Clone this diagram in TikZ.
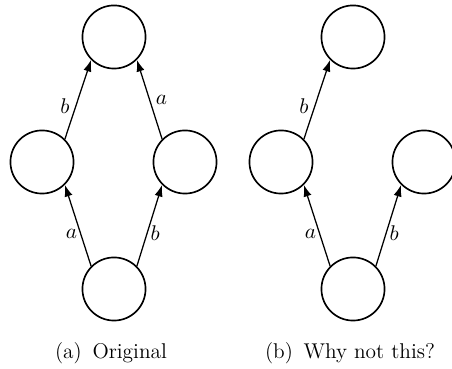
\documentclass[tikz,border=0pt]{standalone}
\usetikzlibrary{arrows.meta}
\begin{document}
\begin{tikzpicture}[x=0.515pt,y=-0.515pt,
  font=\fontsize{11}{13}\selectfont,
  state/.style={draw,circle,line width=0.85pt,minimum size=32.5pt,inner sep=0pt},
  edge/.style={line width=0.65pt,-{Latex[length=6pt,width=4.2pt]}},
  lbl/.style={inner sep=1.5pt}]
\useasboundingbox (0,0) rectangle (452,369);
% (a) Original
\node[state] (aT) at (114,37) {};
\node[state] (aL) at (42,162) {};
\node[state] (aR) at (185,162) {};
\node[state] (aB) at (114,289) {};
\draw[edge] (aB.135) -- node[lbl,pos=0.4,left]{$a$} (aL.-45);
\draw[edge] (aB.45) -- node[lbl,pos=0.4,right]{$b$} (aR.225);
\draw[edge] (aL.45) -- node[lbl,pos=0.42,left,inner sep=3pt]{$b$} (aT.225);
\draw[edge] (aR.135) -- node[lbl,pos=0.5,right,inner sep=3pt]{$a$} (aT.-45);
\node (capa) at (111,353) {(a)\enspace Original};
% (b) Why not this?
\node[state] (bT) at (353,37) {};
\node[state] (bL) at (281,162) {};
\node[state] (bR) at (424,162) {};
\node[state] (bB) at (353,289) {};
\draw[edge] (bB.135) -- node[lbl,pos=0.4,left]{$a$} (bL.-45);
\draw[edge] (bB.45) -- node[lbl,pos=0.4,right]{$b$} (bR.225);
\draw[edge] (bL.45) -- node[lbl,pos=0.42,left,inner sep=3pt]{$b$} (bT.225);
\node (capb) at (350,353) {(b)\enspace Why not this?};
\end{tikzpicture}
\end{document}
